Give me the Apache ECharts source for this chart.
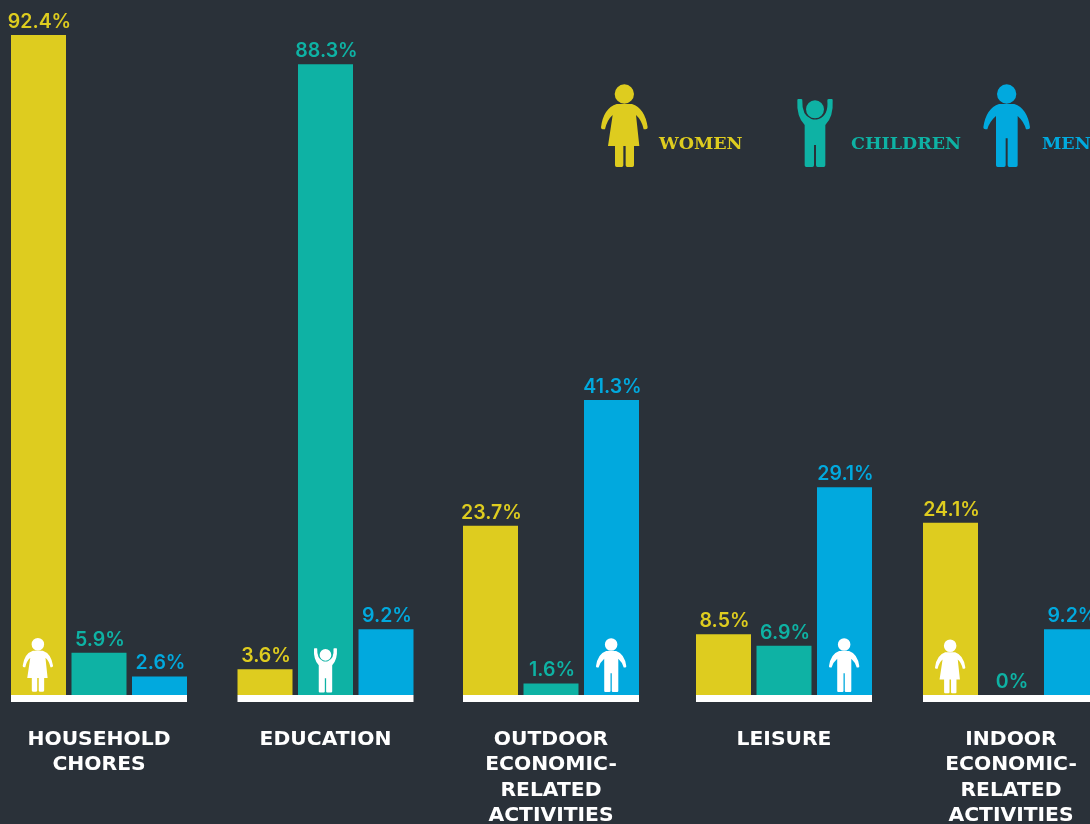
<!DOCTYPE html>
<html>
<head>
<meta charset="utf-8">
<style>html,body{margin:0;padding:0;background:#2a3139;overflow:hidden}#c{width:1090px;height:824px}</style>
<script src="https://cdn.jsdelivr.net/npm/echarts@6/dist/echarts.min.js"></script>
</head>
<body>
<div id="c"></div>
<script>
const categories = ['HOUSEHOLD\nCHORES', 'EDUCATION', 'OUTDOOR\nECONOMIC-\nRELATED\nACTIVITIES', 'LEISURE', 'INDOOR\nECONOMIC-\nRELATED\nACTIVITIES'];
const women = [92.4, 3.6, 23.7, 8.5, 24.1];
const children = [5.9, 88.3, 1.6, 6.9, 0];
const men = [2.6, 9.2, 41.3, 29.1, 9.2];
const seriesNames = ['WOMEN', 'CHILDREN', 'MEN'];
const seriesValues = [women, children, men];
const yMax = 92.4;

const colors = ['#decc1f', '#0eb2a4', '#01a9de'];
const bg = '#2a3139';
const groupLeft = [11, 237.5, 463, 696, 923];
const groupWidth = 176;
const valueFont = 'Inter';
const catFont = '"DejaVu Sans"';

const pWoman = 'M74,72a29,29 0 1,0 58,0a29,29 0 1,0 -58,0Z M80,102L126,102Q165,115 173,172Q173,178 167,178L161,178Q155,150 138,135L148,228L132,228L132,286Q132,291 127,291L112,291Q107,291 107,286L107,228L100,228L100,286Q100,291 95,291L80,291Q75,291 75,286L75,228L54,228L68,135Q51,150 45,178L38,178Q33,178 33,172Q40,115 80,102Z';
const pMan = 'M471,72a29,29 0 1,0 58,0a29,29 0 1,0 -58,0Z M477,102L523,102Q562,115 570,172Q570,178 564,178L558,178Q552,155 533,138L533,286Q533,291 528,291L508,291Q503,291 503,286L503,205L497,205L497,286Q497,291 492,291L473,291Q468,291 468,286L468,138Q448,155 442,178L436,178Q430,178 430,172Q438,115 477,102Z';
const pChild = 'M648,118a27,27 0 1,0 54,0a27,27 0 1,0 -54,0Z M622,90Q622,87 625,87L634,87Q638,87 637,92Q635,135 664,147Q675,150 686,147Q716,135 712,92Q711,87 716,87L725,87Q728,87 728,90Q731,140 706,165L706,286Q706,291 701,291L683,291Q678,291 678,286L678,225L672,225L672,286Q672,291 667,291L649,291Q644,291 644,286L644,165Q619,140 622,90Z';

function icon(pathData, ox, oy, s, fill) {
  return { type: 'path', x: ox, y: oy, scaleX: s, scaleY: s,
    shape: { pathData: pathData }, style: { fill: fill } };
}
function legendText(text, x, color) {
  return { type: 'text', x: x, y: 144, z: 100, silent: true,
    style: { text: text, fill: color, font: 'bold 17.5px "DejaVu Serif"', textVerticalAlign: 'middle' } };
}
const smallScale = 0.2167;
const iconElements = [
  icon(pWoman, 590, 70, 1 / 3, colors[0]),
  icon(pChild, 590, 70, 1 / 3, colors[1]),
  icon(pMan, 840, 70, 1 / 3, colors[2]),
  icon(pWoman, 15.55, 628.6, smallScale, '#fff'),
  icon(pChild, 179.2, 629.4, smallScale, '#fff'),
  icon(pMan, 502.8, 628.9, smallScale, '#fff'),
  icon(pMan, 735.8, 628.9, smallScale, '#fff'),
  icon(pWoman, 927.85, 630.2, smallScale, '#fff')
];
const graphics = [
  legendText(seriesNames[0], 659, colors[0]),
  legendText(seriesNames[1], 851, colors[1]),
  legendText(seriesNames[2], 1042, colors[2])
];

const grids = [], xAxes = [], yAxes = [], series = [];
categories.forEach((cat, i) => {
  grids.push({ left: groupLeft[i], width: groupWidth, top: 35, height: 660, outerBoundsMode: 'none', containLabel: false });
  xAxes.push({
    type: 'category', gridIndex: i, data: [cat], offset: 3.5,
    axisLine: { show: true, onZero: false, lineStyle: { color: '#fff', width: 7, cap: 'butt' } },
    axisTick: { show: false },
    axisLabel: { show: true, interval: 0, margin: 28.5, color: '#fff', fontFamily: catFont, fontWeight: 'bold', fontSize: 20.3, lineHeight: 25.3, align: 'center', verticalAlign: 'top' }
  });
  yAxes.push({ type: 'value', gridIndex: i, min: 0, max: yMax, show: false, splitLine: { show: false } });
  seriesValues.forEach((vals, k) => {
    series.push({
      type: 'bar', name: seriesNames[k], xAxisIndex: i, yAxisIndex: i,
      data: [vals[i]], barWidth: 55, barGap: '10%',
      itemStyle: { color: colors[k] },
      label: { show: true, position: 'top', distance: 3, offset: [1, 0], formatter: '{c}%', color: colors[k], fontFamily: valueFont, fontWeight: 600, fontSize: 19.5 }
    });
  });
});
series.push({
  type: 'custom', coordinateSystem: 'none', data: [0], z: 50, silent: true, clip: false,
  renderItem: () => ({ type: 'group', children: iconElements })
});

const chart = echarts.init(document.getElementById('c'), null, { renderer: 'canvas' });
chart.setOption({
  backgroundColor: bg, animation: false,
  grid: grids, xAxis: xAxes, yAxis: yAxes, series: series, graphic: graphics
});
</script>
</body>
</html>
